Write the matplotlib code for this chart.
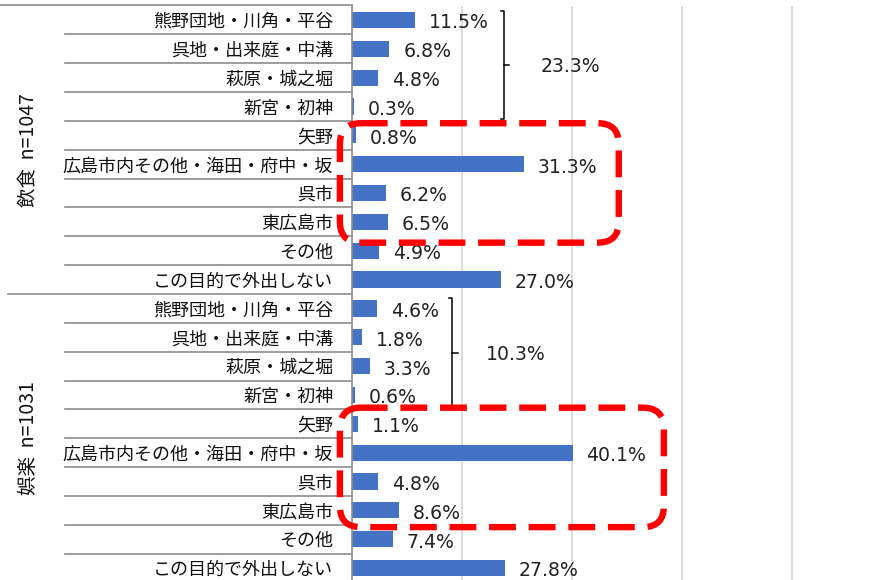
import matplotlib
matplotlib.use("Agg")
import matplotlib.pyplot as plt
from matplotlib.patches import FancyBboxPatch
from matplotlib import transforms
import numpy as np

JP = ['Noto Sans CJK JP', 'DejaVu Sans']

# data
areas = ['熊野団地・川角・平谷', '呉地・出来庭・中溝', '萩原・城之堀', '新宮・初神', '矢野',
         '広島市内その他・海田・府中・坂', '呉市', '東広島市', 'その他', 'この目的で外出しない']
groups = ['飲食  n=1047', '娯楽  n=1031']
eat_pct = [11.5, 6.8, 4.8, 0.3, 0.8, 31.3, 6.2, 6.5, 4.9, 27.0]
fun_pct = [4.6, 1.8, 3.3, 0.6, 1.1, 40.1, 4.8, 8.6, 7.4, 27.8]
local_sum = ['23.3%', '10.3%']

labels = areas + areas
values = eat_pct + fun_pct
n = len(labels)
rows = np.arange(n)

fig = plt.figure(figsize=(8.91, 5.8), dpi=100)
# plot area runs a little past the bottom edge, like the cropped original
ax = fig.add_axes([352 / 891, -2.5 / 580, 1 - 352 / 891, 577 / 580])

ax.barh(rows, values, height=0.56, color='#4472C4', zorder=2)
for r, v in zip(rows, values):
    ax.text(v + 2.5, r + 0.1, f'{v:.1f}%', ha='left', va='center',
            fontsize=13.6, family='DejaVu Sans', color='#222222', zorder=3)

ax.set_xlim(0, 98)
ax.set_ylim(n - 0.5, -0.5)
ax.set_xticks([20, 40, 60, 80])
ax.xaxis.grid(True, color='#d9d9d9', linewidth=1.3)
ax.tick_params(axis='x', length=0, labelbottom=False)
ax.set_yticks(rows)
ax.set_yticklabels(labels, family=JP, fontsize=13.0, color='#111111')
ax.tick_params(axis='y', length=0, pad=13.5)
for s in ['top', 'right', 'bottom']:
    ax.spines[s].set_visible(False)
ax.spines['left'].set_color('#8c8c8c')
ax.spines['left'].set_linewidth(1.2)

# multi-level category axis lines
tr = transforms.blended_transform_factory(fig.transFigure, ax.transData)
for b in np.arange(-0.5, n, 1.0):
    if b == -0.5:
        x0 = 0
    elif b == 9.5:
        x0 = 8 / 891
    else:
        x0 = 65 / 891
    ax.plot([x0, 352 / 891], [b, b], transform=tr, color='#8c8c8c',
            linewidth=1.2, clip_on=False)
for g, name in enumerate(groups):
    ax.text(29 / 891, g * 10 + 4.5, name, transform=tr, rotation=90,
            ha='center', va='center', family=JP, fontsize=14, color='#111111')

# brackets summing the four local areas
def bracket(x, y0, y1, label, tx):
    ax.plot([x - 0.6, x, x, x - 0.6], [y0, y0, y1, y1], color='black', linewidth=1.1, zorder=3)
    ym = (y0 + y1) / 2
    ax.plot([x, x + 1.0], [ym, ym], color='black', linewidth=1.1, zorder=3)
    ax.text(tx, ym + 0.05, label, ha='center', va='center', fontsize=13.6,
            family='DejaVu Sans', color='#222222')

bracket(27.6, -0.3, 3.45, local_sum[0], 39.8)
bracket(18.2, 9.64, 13.44, local_sum[1], 29.8)

# red dashed rounded boxes
def red_box(x0, x1, y0, y1):
    box = FancyBboxPatch((x0, y0), x1 - x0, y1 - y0,
                         boxstyle='round,pad=0,rounding_size=3.8',
                         mutation_aspect=5.5 / 28.9,
                         fill=False, edgecolor='#ff0000', linewidth=4.6,
                         linestyle=(0, (4.2, 2.0)), clip_on=False, zorder=4)
    ax.add_patch(box)

red_box(-2.2, 48.5, 3.58, 7.72)
red_box(-2.2, 56.7, 13.44, 17.58)

fig.savefig('out.png', dpi=100)
